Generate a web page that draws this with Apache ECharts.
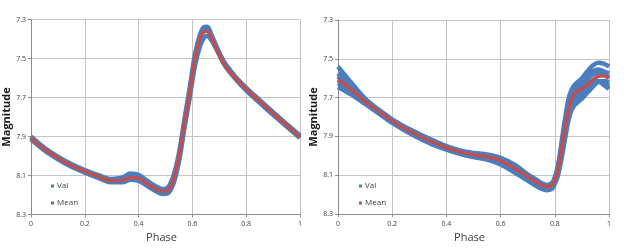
<!DOCTYPE html>
<html><head><meta charset="utf-8">
<script src="https://cdn.jsdelivr.net/npm/echarts@6/dist/echarts.min.js"></script>
<style>html,body{margin:0;padding:0;background:#fff}#c{width:626px;height:250px}</style>
</head><body><div id="c"></div>
<script>
const X_TICKS = [0, 0.2, 0.4, 0.6, 0.8, 1];
const Y_TICKS = [7.3, 7.5, 7.7, 7.9, 8.1, 8.3];

// Left panel
const L_PHASE = [0, 0.05, 0.1, 0.15, 0.2, 0.25, 0.3, 0.34, 0.37, 0.4, 0.43, 0.46, 0.49, 0.51, 0.53, 0.55, 0.57, 0.59, 0.61, 0.63, 0.645, 0.655, 0.67, 0.69, 0.72, 0.76, 0.8, 0.85, 0.9, 0.95, 1.0];
const L_MEAN = [7.908, 7.965, 8.01, 8.048, 8.078, 8.105, 8.127, 8.125, 8.11, 8.115, 8.14, 8.165, 8.182, 8.175, 8.12, 8.0, 7.835, 7.675, 7.5, 7.385, 7.362, 7.36, 7.393, 7.45, 7.535, 7.6, 7.657, 7.72, 7.782, 7.842, 7.902];
const L_VAL1 = [7.9, 7.958, 8.003, 8.041, 8.072, 8.098, 8.118, 8.11, 8.09, 8.097, 8.125, 8.152, 8.17, 8.16, 8.1, 7.985, 7.815, 7.65, 7.475, 7.37, 7.338, 7.337, 7.375, 7.44, 7.522, 7.593, 7.65, 7.713, 7.775, 7.835, 7.895];
const L_VAL2 = [7.915, 7.972, 8.017, 8.055, 8.085, 8.112, 8.135, 8.135, 8.122, 8.128, 8.152, 8.177, 8.195, 8.19, 8.14, 8.03, 7.86, 7.7, 7.535, 7.43, 7.39, 7.385, 7.405, 7.455, 7.535, 7.605, 7.663, 7.727, 7.789, 7.849, 7.908];
const L_VAL3 = [7.905, 7.962, 8.008, 8.046, 8.077, 8.104, 8.128, 8.124, 8.108, 8.113, 8.138, 8.166, 8.185, 8.178, 8.125, 8.01, 7.842, 7.68, 7.505, 7.39, 7.352, 7.35, 7.385, 7.447, 7.53, 7.598, 7.655, 7.718, 7.78, 7.84, 7.9];

// Right panel
const R_PHASE = [0, 0.05, 0.1, 0.15, 0.2, 0.25, 0.3, 0.35, 0.4, 0.45, 0.5, 0.55, 0.6, 0.65, 0.7, 0.73, 0.75, 0.77, 0.79, 0.8, 0.81, 0.82, 0.83, 0.84, 0.85, 0.86, 0.87, 0.88, 0.9, 0.92, 0.94, 0.96, 0.98, 1.0];
const R_MEAN = [7.605, 7.66, 7.72, 7.77, 7.82, 7.862, 7.898, 7.93, 7.958, 7.98, 7.995, 8.005, 8.025, 8.063, 8.108, 8.135, 8.15, 8.16, 8.15, 8.125, 8.085, 8.01, 7.92, 7.84, 7.77, 7.715, 7.685, 7.67, 7.655, 7.635, 7.61, 7.59, 7.588, 7.6];
const R_VAL1 = [7.54, 7.625, 7.705, 7.762, 7.812, 7.853, 7.888, 7.92, 7.95, 7.972, 7.985, 7.993, 8.01, 8.045, 8.095, 8.122, 8.14, 8.15, 8.14, 8.11, 8.06, 7.98, 7.88, 7.79, 7.71, 7.665, 7.64, 7.625, 7.6, 7.565, 7.535, 7.52, 7.525, 7.54];
const R_VAL2 = [7.575, 7.645, 7.712, 7.768, 7.818, 7.86, 7.893, 7.925, 7.955, 7.977, 7.99, 8.0, 8.018, 8.055, 8.1, 8.13, 8.145, 8.155, 8.145, 8.118, 8.075, 7.995, 7.9, 7.815, 7.74, 7.69, 7.66, 7.645, 7.62, 7.59, 7.565, 7.555, 7.565, 7.575];
const R_VAL3 = [7.59, 7.655, 7.718, 7.772, 7.825, 7.868, 7.905, 7.938, 7.963, 7.985, 8.0, 8.012, 8.035, 8.072, 8.115, 8.142, 8.158, 8.168, 8.16, 8.135, 8.1, 8.03, 7.95, 7.87, 7.8, 7.745, 7.72, 7.705, 7.68, 7.655, 7.63, 7.615, 7.625, 7.64];
const R_VAL4 = [7.625, 7.672, 7.727, 7.778, 7.828, 7.87, 7.908, 7.94, 7.966, 7.988, 8.004, 8.017, 8.04, 8.078, 8.12, 8.147, 8.163, 8.172, 8.163, 8.14, 8.11, 8.05, 7.975, 7.895, 7.82, 7.77, 7.745, 7.73, 7.705, 7.675, 7.645, 7.62, 7.615, 7.62];
const R_VAL5 = [7.645, 7.685, 7.733, 7.782, 7.83, 7.872, 7.91, 7.942, 7.968, 7.99, 8.006, 8.02, 8.045, 8.085, 8.128, 8.155, 8.17, 8.178, 8.17, 8.145, 8.1, 8.02, 7.93, 7.85, 7.79, 7.74, 7.71, 7.69, 7.665, 7.645, 7.625, 7.615, 7.635, 7.655];
const R_VAL6 = [7.61, 7.662, 7.72, 7.772, 7.822, 7.862, 7.898, 7.928, 7.955, 7.978, 7.994, 8.004, 8.022, 8.06, 8.105, 8.133, 8.148, 8.158, 8.148, 8.122, 8.08, 8.0, 7.905, 7.82, 7.745, 7.7, 7.675, 7.66, 7.64, 7.61, 7.58, 7.57, 7.58, 7.595];

const BLUE = '#4a7ebf', RED = '#c0504d', GRID = '#c4c4c4', AXIS = '#8c8c8c', TXT = '#404040';
const FONT = 'Open Sans';
const zip = (xs, ys) => xs.map((x, i) => [x, ys[i]]);

const grids = [
  { left: 31, top: 19.5, width: 269, height: 195 },
  { left: 338, top: 20, width: 271, height: 194 }
];
function xAx(i) {
  return { type: 'value', gridIndex: i, min: X_TICKS[0], max: X_TICKS[X_TICKS.length - 1], interval: X_TICKS[1] - X_TICKS[0],
    name: 'Phase', nameLocation: 'middle', nameGap: 16,
    nameTextStyle: { fontFamily: FONT, fontSize: 11, color: TXT, padding: [0, 8, 0, 0] },
    axisLine: { show: true, lineStyle: { color: AXIS, width: 1 } },
    axisTick: { show: true, length: 3, lineStyle: { color: AXIS } },
    axisLabel: { fontFamily: FONT, fontSize: 7, color: TXT, margin: 6 },
    splitLine: { show: true, lineStyle: { color: GRID, width: 1 } } };
}
function yAx(i, gap) {
  return { type: 'value', gridIndex: i, inverse: true, min: Y_TICKS[0], max: Y_TICKS[Y_TICKS.length - 1], interval: 0.2,
    name: 'Magnitude', nameLocation: 'middle', nameGap: gap, nameRotate: 90,
    nameTextStyle: { fontFamily: FONT, fontSize: 11, color: '#1a1a1a', fontWeight: 'bold' },
    axisLine: { show: true, lineStyle: { color: AXIS, width: 1 } },
    axisTick: { show: true, length: 3, lineStyle: { color: AXIS } },
    axisLabel: { fontFamily: FONT, fontSize: 7, color: TXT, margin: 5, formatter: v => v.toFixed(1) },
    splitLine: { show: true, lineStyle: { color: GRID, width: 1 } } };
}
function valSeries(i, phase, vals) {
  return { name: 'Val', type: 'line', xAxisIndex: i, yAxisIndex: i, data: zip(phase, vals), smooth: 0.35,
    showSymbol: false, symbol: 'rect', color: BLUE, lineStyle: { color: BLUE, width: 4.5 }, silent: true, animation: false };
}
function meanSeries(i, phase, vals) {
  return { name: 'Mean', type: 'line', xAxisIndex: i, yAxisIndex: i, data: zip(phase, vals), smooth: 0.35,
    showSymbol: false, symbol: 'rect', color: RED, lineStyle: { color: RED, width: 3.5 }, z: 5, silent: true, animation: false };
}
function legend(left) {
  return { orient: 'vertical', left: left, top: 177, itemWidth: 3, itemHeight: 3, itemGap: 9, icon: 'rect',
    data: ['Val', 'Mean'], textStyle: { fontFamily: FONT, fontSize: 8, color: TXT, padding: [0, 0, 0, -2] }, selectedMode: false };
}

const chart = echarts.init(document.getElementById('c'), null, { renderer: 'canvas' });
chart.setOption({
  backgroundColor: '#fff',
  animation: false,
  grid: grids,
  xAxis: [xAx(0), xAx(1)],
  yAxis: [yAx(0, 17), yAx(1, 19)],
  legend: [legend(46), legend(354)],
  series: [
    valSeries(0, L_PHASE, L_VAL1), valSeries(0, L_PHASE, L_VAL2), valSeries(0, L_PHASE, L_VAL3),
    meanSeries(0, L_PHASE, L_MEAN),
    valSeries(1, R_PHASE, R_VAL1), valSeries(1, R_PHASE, R_VAL2), valSeries(1, R_PHASE, R_VAL3),
    valSeries(1, R_PHASE, R_VAL4), valSeries(1, R_PHASE, R_VAL5), valSeries(1, R_PHASE, R_VAL6),
    meanSeries(1, R_PHASE, R_MEAN)
  ]
});
</script></body></html>
